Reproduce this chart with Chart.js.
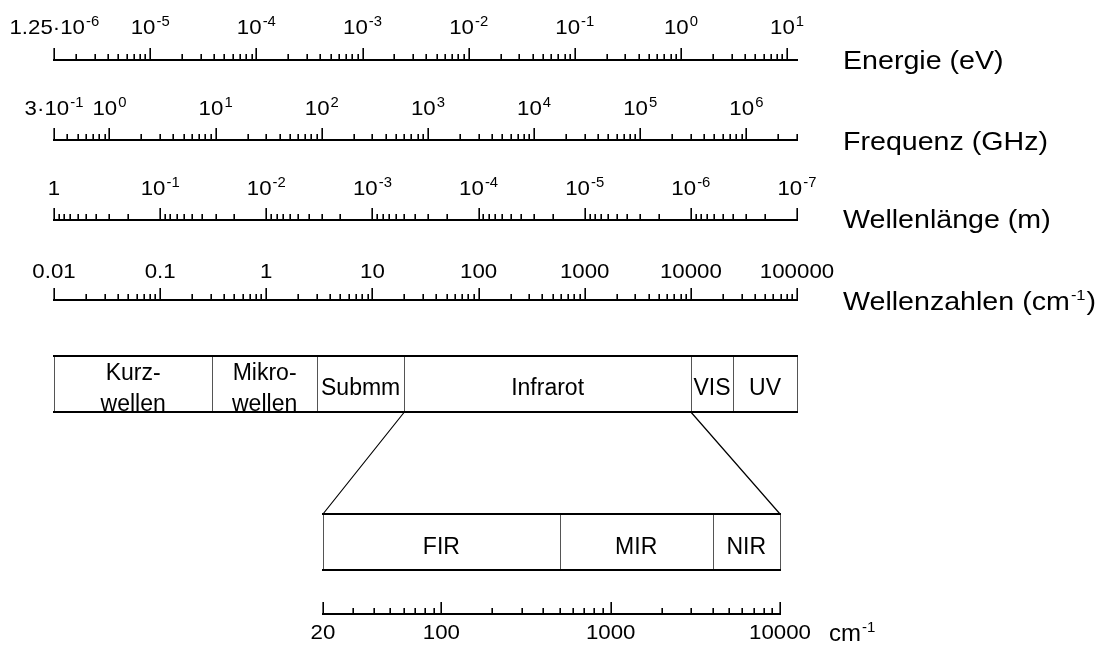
<!DOCTYPE html>
<html lang="de">
<head>
<meta charset="UTF-8">
<title>Elektromagnetisches Spektrum</title>
<script src="https://cdn.jsdelivr.net/npm/chart.js"></script>
<style>
  html, body { margin: 0; padding: 0; background: #fff; }
</style>
</head>
<body>
<canvas id="spektrum" width="1104" height="648"></canvas>
<script>
// Beschriftungen der vier Lineale (Wert, Basis, Exponent)
const energieWerte = [1.25e-6, 1e-5, 1e-4, 1e-3, 1e-2, 1e-1, 1, 10];
const energieTexte = [['1.25·10', '-6'], ['10', '-5'], ['10', '-4'], ['10', '-3'], ['10', '-2'], ['10', '-1'], ['10', '0'], ['10', '1']];
const frequenzWerte = [0.3, 1, 10, 100, 1e3, 1e4, 1e5, 1e6];
const frequenzTexte = [['3·10', '-1'], ['10', '0'], ['10', '1'], ['10', '2'], ['10', '3'], ['10', '4'], ['10', '5'], ['10', '6']];
const wellenlaengeWerte = [1, 1e-1, 1e-2, 1e-3, 1e-4, 1e-5, 1e-6, 1e-7];
const wellenlaengeTexte = [['1', ''], ['10', '-1'], ['10', '-2'], ['10', '-3'], ['10', '-4'], ['10', '-5'], ['10', '-6'], ['10', '-7']];
const wellenzahlWerte = [0.01, 0.1, 1, 10, 100, 1000, 10000, 100000];
const wellenzahlTexte = ['0.01', '0.1', '1', '10', '100', '1000', '10000', '100000'];

// Spektralbereiche, Grenzen in cm^-1
const bereiche = [['Kurz-', 'wellen'], ['Mikro-', 'wellen'], ['Submm'], ['Infrarot'], ['VIS'], ['UV']];
const bereichGrenzen = [0.01, 0.31, 3, 20, 10000, 25000, 100000];
const irBereiche = ['FIR', 'MIR', 'NIR'];
const irGrenzen = [20, 500, 4000, 10000];
const irWerte = [20, 100, 1000, 10000];
const irTexte = ['20', '100', '1000', '10000'];

// Umrechnung: 0.01 cm^-1 entspricht 1.24e-6 eV, 0.3 GHz und 1 m
const FONT = '"Liberation Sans", Arial, Helvetica, sans-serif';
const flaecheLinks = 54, flaecheRechts = 797;   // Zeichenfläche der Hauptskala
const lupeLinks = 323, lupeRechts = 780;         // Lage des vergrößerten IR-Lineals
const proDekadeLupe = (lupeRechts - lupeLinks) / Math.log10(irGrenzen[3] / irGrenzen[0]);
const lupeMin = irGrenzen[0] / Math.pow(10, (lupeLinks - flaecheLinks) / proDekadeLupe);
const lupeMax = irGrenzen[3] * Math.pow(10, (flaecheRechts - lupeRechts) / proDekadeLupe);

// Text mit optionalem Exponenten; ausrichtung 'center' oder 'left', sx = Laufweite
function hochText(ctx, x, y, basis, exp, gross, klein, ausrichtung, sx) {
  sx = sx || 1;
  ctx.font = gross + 'px ' + FONT;
  const wb = ctx.measureText(basis).width;
  ctx.font = klein + 'px ' + FONT;
  const we = exp ? ctx.measureText(exp).width + 1 : 0;
  const breite = (wb + we) * sx;
  const x0 = ausrichtung === 'left' ? x : x - breite / 2;
  ctx.save();
  ctx.translate(x0, y);
  ctx.scale(sx, 1);
  ctx.textAlign = 'left';
  ctx.textBaseline = 'alphabetic';
  ctx.font = gross + 'px ' + FONT;
  ctx.fillText(basis, 0, 0);
  if (exp) {
    ctx.font = klein + 'px ' + FONT;
    ctx.fillText(exp, wb + 1, -Math.round(gross * 0.37));
  }
  ctx.restore();
  return breite;
}

function lineal(ctx, scale, y, anfang, ende) {
  const a = scale.getPixelForValue(anfang);
  const b = scale.getPixelForValue(ende);
  ctx.lineWidth = 2;
  ctx.beginPath();
  ctx.moveTo(Math.min(a, b) - 1, y);
  ctx.lineTo(Math.max(a, b) + 1, y);
  ctx.stroke();

  const lo = Math.min(anfang, ende), hi = Math.max(anfang, ende);
  ctx.lineWidth = 1.6;
  ctx.beginPath();
  for (let e = Math.floor(Math.log10(lo)); e <= Math.ceil(Math.log10(hi)); e++) {
    for (let k = 1; k <= 9; k++) {
      const v = k * Math.pow(10, e);
      if (v < lo * 0.9999 || v > hi * 1.0001) continue;
      const px = Math.round(scale.getPixelForValue(v)) + 0.2;
      const len = k === 1 ? 12 : 6;
      ctx.moveTo(px, y);
      ctx.lineTo(px, y - len);
    }
  }
  // Anfang des Lineals immer mit langem Strich
  const pa = Math.round(a) + 0.2;
  ctx.moveTo(pa, y);
  ctx.lineTo(pa, y - 12);
  ctx.stroke();
}

function beschriften(ctx, scale, y, werte, texte) {
  werte.forEach((v, i) => {
    const t = texte[i];
    const px = scale.getPixelForValue(v);
    if (Array.isArray(t)) hochText(ctx, px, y, t[0], t[1], 21, 14, 'center', 1.06);
    else hochText(ctx, px, y, t, '', 21, 14, 'center', 1.06);
  });
}

function bereichsKasten(ctx, scale, oben, unten, grenzen, namen, zeilen) {
  const xs = grenzen.map(g => scale.getPixelForValue(g));
  ctx.strokeStyle = '#555';
  ctx.lineWidth = 1;
  ctx.beginPath();
  xs.forEach(x => {
    const px = Math.round(x) + 0.5;
    ctx.moveTo(px, oben);
    ctx.lineTo(px, unten);
  });
  ctx.stroke();
  ctx.strokeStyle = '#000';
  ctx.lineWidth = 2;
  ctx.beginPath();
  ctx.moveTo(xs[0] - 1, oben); ctx.lineTo(xs[xs.length - 1] + 1, oben);
  ctx.moveTo(xs[0] - 1, unten); ctx.lineTo(xs[xs.length - 1] + 1, unten);
  ctx.stroke();
  namen.forEach((n, i) => {
    const mitte = (xs[i] + xs[i + 1]) / 2;
    const teile = Array.isArray(n) ? n : [n];
    const ys = zeilen[teile.length - 1];
    teile.forEach((t, j) => hochText(ctx, mitte, ys[j], t, '', 23, 14));
  });
}

const spektrumPlugin = {
  id: 'spektrum',
  afterDraw(chart) {
    const ctx = chart.ctx;
    const s = chart.scales;
    ctx.save();
    ctx.fillStyle = '#000';
    ctx.strokeStyle = '#000';
    ctx.lineCap = 'butt';

    // vier Lineale
    lineal(ctx, s.xE, 60, s.xE.min, s.xE.max);
    beschriften(ctx, s.xE, 34, energieWerte, energieTexte);
    lineal(ctx, s.xF, 140, s.xF.min, s.xF.max);
    beschriften(ctx, s.xF, 115, frequenzWerte, frequenzTexte);
    lineal(ctx, s.xL, 220, s.xL.max, s.xL.min);
    beschriften(ctx, s.xL, 195, wellenlaengeWerte, wellenlaengeTexte);
    lineal(ctx, s.x, 300, s.x.min, s.x.max);
    beschriften(ctx, s.x, 278, wellenzahlWerte, wellenzahlTexte);

    // Achsentitel rechts
    const tx = 843, sxT = 1.1;
    hochText(ctx, tx, 69, 'Energie (eV)', '', 26, 15, 'left', sxT);
    hochText(ctx, tx, 150, 'Frequenz (GHz)', '', 26, 15, 'left', sxT);
    hochText(ctx, tx, 228, 'Wellenlänge (m)', '', 26, 15, 'left', sxT);
    const w = hochText(ctx, tx, 310, 'Wellenzahlen (cm', '-1', 26, 15, 'left', sxT);
    hochText(ctx, tx + w + 1, 310, ')', '', 26, 15, 'left', sxT);

    // Spektralbereiche
    bereichsKasten(ctx, s.x, 356, 412, bereichGrenzen, bereiche, [[395], [380, 411]]);

    // Verbindung zum vergrößerten IR-Bereich
    ctx.lineWidth = 1.2;
    ctx.beginPath();
    ctx.moveTo(s.x.getPixelForValue(irGrenzen[0]), 412);
    ctx.lineTo(s.xB.getPixelForValue(irGrenzen[0]), 514);
    ctx.moveTo(s.x.getPixelForValue(irGrenzen[3]), 412);
    ctx.lineTo(s.xB.getPixelForValue(irGrenzen[3]), 514);
    ctx.stroke();

    bereichsKasten(ctx, s.xB, 514, 570, irGrenzen, irBereiche, [[554]]);

    // IR-Lineal unten
    lineal(ctx, s.xB, 614, irGrenzen[0], irGrenzen[3]);
    irWerte.forEach((v, i) => hochText(ctx, s.xB.getPixelForValue(v), 639, irTexte[i], '', 21, 14, 'center', 1.06));
    hochText(ctx, 829, 641, 'cm', '-1', 24, 15, 'left', 1);
    ctx.restore();
  }
};

new Chart(document.getElementById('spektrum'), {
  type: 'scatter',
  data: { datasets: [] },
  options: {
    responsive: false,
    animation: false,
    devicePixelRatio: 1,
    layout: { padding: { left: flaecheLinks, right: 1104 - flaecheRechts, top: 0, bottom: 0 } },
    plugins: { legend: { display: false }, tooltip: { enabled: false } },
    scales: {
      x:  { type: 'logarithmic', min: 0.01, max: 100000, display: false },
      xE: { type: 'logarithmic', axis: 'x', min: 1.24e-6, max: 12.4, display: false },
      xF: { type: 'logarithmic', axis: 'x', min: 0.3, max: 3e6, display: false },
      xL: { type: 'logarithmic', axis: 'x', min: 1e-7, max: 1, reverse: true, display: false },
      xB: { type: 'logarithmic', axis: 'x', min: lupeMin, max: lupeMax, display: false },
      y:  { type: 'linear', min: 0, max: 1, display: false }
    }
  },
  plugins: [spektrumPlugin]
});
</script>
</body>
</html>
